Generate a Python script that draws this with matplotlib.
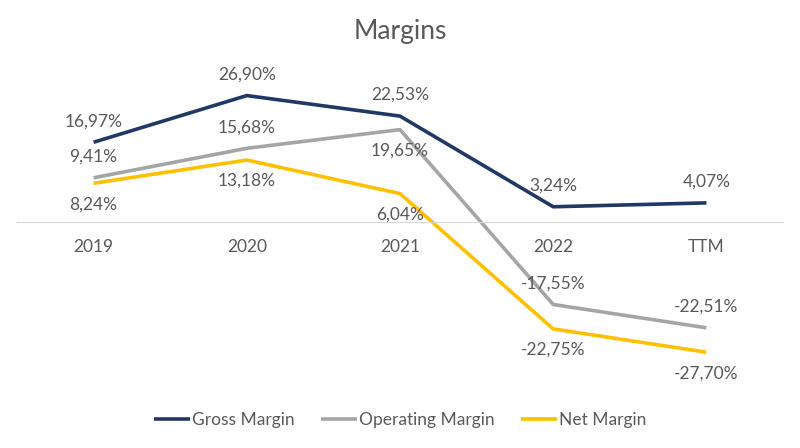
import matplotlib.pyplot as plt
import numpy as np

plt.rcParams['font.family'] = ['Lato', 'DejaVu Sans']

categories = ['2019', '2020', '2021', '2022', 'TTM']
gross = [16.97, 26.90, 22.53, 3.24, 4.07]
operating = [9.41, 15.68, 19.65, -17.55, -22.51]
net = [8.24, 13.18, 6.04, -22.75, -27.70]

# label placement per point: +1 above, -1 below
gross_pos = [1, 1, 1, 1, 1]
operating_pos = [1, 1, -1, 1, 1]
net_pos = [-1, -1, -1, -1, -1]

txt = '#595959'
fig = plt.figure(figsize=(8, 4.48), dpi=100)
ax = fig.add_axes([17 / 800, 1 - 363 / 448, 766 / 800, 282 / 448])

x = np.arange(len(categories))
series = [
    ('Gross Margin', gross, '#203864', gross_pos),
    ('Operating Margin', operating, '#A5A5A5', operating_pos),
    ('Net Margin', net, '#FFC000', net_pos),
]
for name, vals, col, pos in series:
    ax.plot(x, vals, color=col, lw=2.6, label=name, solid_capstyle='butt')
    for xi, v, p in zip(x, vals, pos):
        ax.annotate(f'{v:.2f}%'.replace('.', ','), (xi, v), xytext=(0, 21 * p),
                    textcoords='offset pixels',
                    ha='center', va='center', fontsize=12.5, color=txt)

ax.set_xlim(-0.5, len(categories) - 0.5)
ax.set_ylim(-30, 30)
ax.set_xticks(x)
ax.set_xticklabels(categories)
ax.set_yticks([])
for s in ['top', 'right', 'left']:
    ax.spines[s].set_visible(False)
ax.spines['bottom'].set_position(('data', 0))
ax.spines['bottom'].set_color('#D9D9D9')
ax.tick_params(axis='x', length=0, pad=12, labelcolor=txt, labelsize=12.5)
ax.set_facecolor('none')

fig.suptitle('Margins', y=1 - 32 / 448, va='center', fontsize=19, color=txt)
fig.legend(loc='center', bbox_to_anchor=(0.5, 1 - 420 / 448), ncol=3, frameon=False,
           fontsize=12.5, labelcolor=txt, handlelength=2.1, handletextpad=0.1,
           columnspacing=1.5)

fig.savefig('out.png', dpi=100)
